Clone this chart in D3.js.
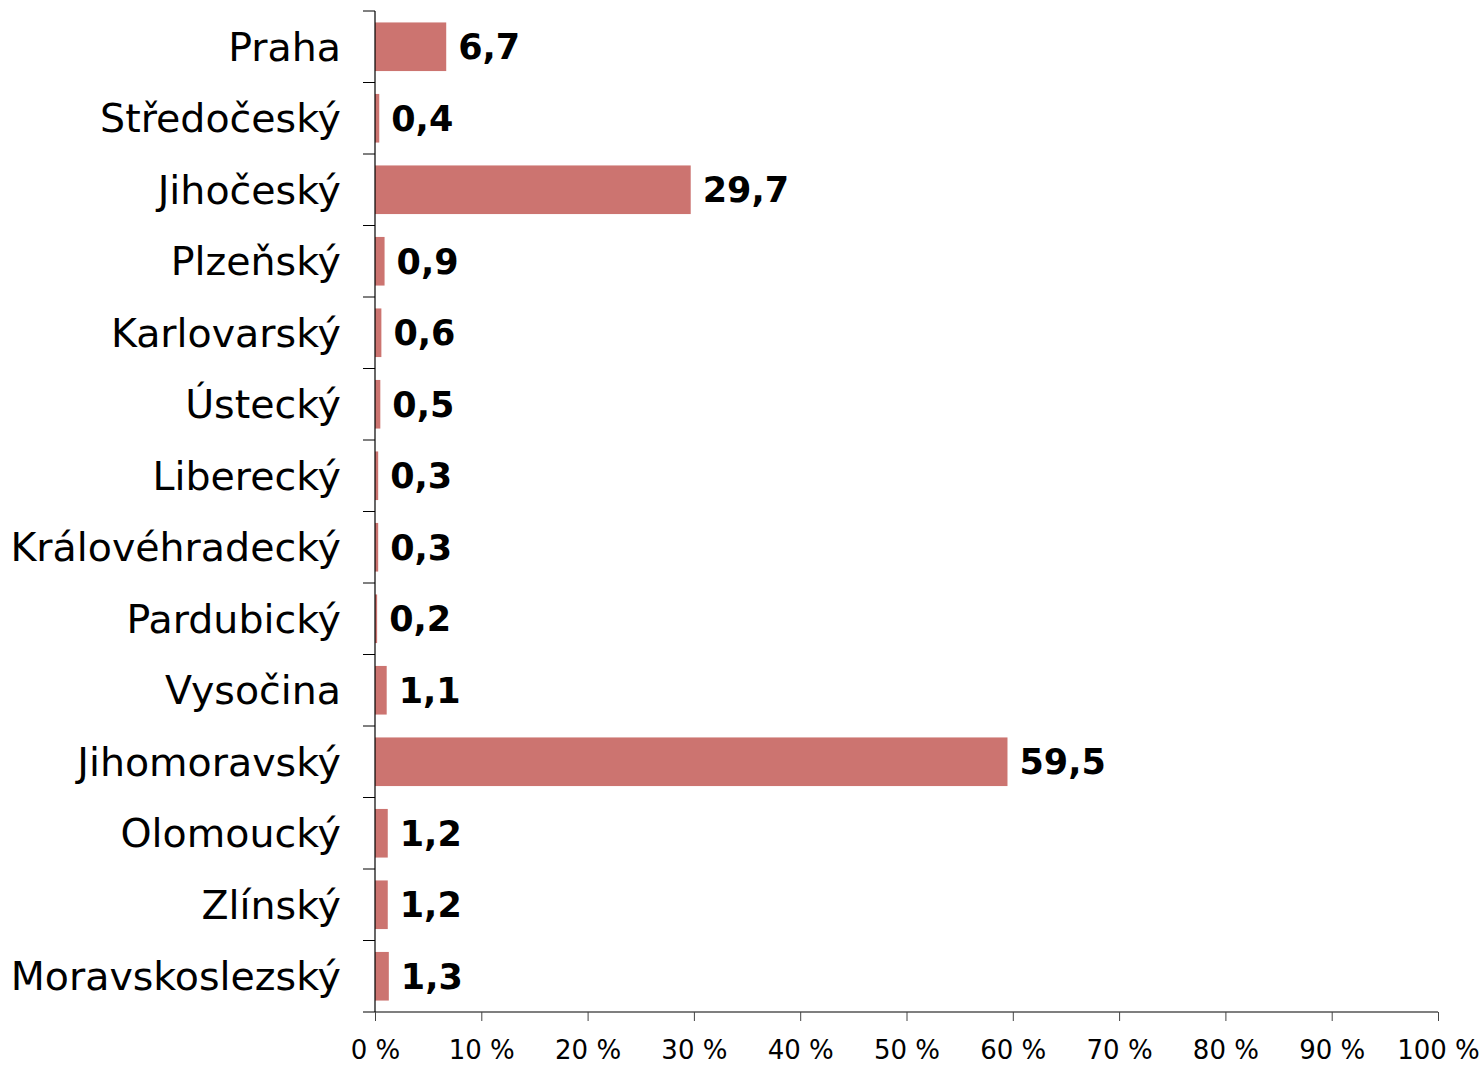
<!DOCTYPE html>
<html>
<head>
<meta charset="utf-8">
<script src="https://cdn.jsdelivr.net/npm/d3@7"></script>
<style>
  body { margin: 0; background: #fff; }
  svg text { font-family: "DejaVu Sans", Verdana, sans-serif; }
</style>
</head>
<body>
<svg id="chart" width="1483" height="1066"></svg>
<script>
// regions (top to bottom) and their share in %
var regions = ["Praha", "Středočeský", "Jihočeský", "Plzeňský", "Karlovarský", "Ústecký",
  "Liberecký", "Královéhradecký", "Pardubický", "Vysočina", "Jihomoravský",
  "Olomoucký", "Zlínský", "Moravskoslezský"];
var shares = [6.7, 0.4, 29.7, 0.9, 0.6, 0.5, 0.3, 0.3, 0.2, 1.1, 59.5, 1.2, 1.2, 1.3];
var tickValues = [0, 10, 20, 30, 40, 50, 60, 70, 80, 90, 100];

(function() {
  var left = 375, right = 1438, top = 11, bottom = 1012;
  var data = regions.map(function(r, i) { return { region: r, value: shares[i] }; });

  var svg = d3.select("#chart");

  var x = d3.scaleLinear().domain([0, 100]).range([left, right]);
  var y = d3.scaleBand().domain(regions).range([top, bottom]).paddingInner(0.32).paddingOuter(0.16);

  // bars
  svg.append("g").selectAll("rect")
    .data(data)
    .enter()
    .append("rect")
      .attr("x", x(0))
      .attr("y", function(d) { return y(d.region); })
      .attr("width", function(d) { return x(d.value) - x(0); })
      .attr("height", y.bandwidth())
      .attr("fill", "#cc7470");

  // value labels
  svg.append("g").selectAll("text")
    .data(data)
    .enter()
    .append("text")
      .attr("x", function(d) { return x(d.value) + 12; })
      .attr("y", function(d) { return y(d.region) + y.bandwidth() / 2; })
      .attr("dy", "0.36em")
      .style("font-size", "35px")
      .style("font-weight", "bold")
      .attr("fill", "#000")
      .text(function(d) { return d3.format(".1f")(d.value).replace(".", ","); });

  // y axis: line plus ticks at band boundaries
  var step = (bottom - top) / regions.length;
  var yAxis = svg.append("g");
  yAxis.append("line")
    .attr("x1", left).attr("x2", left).attr("y1", top).attr("y2", bottom)
    .attr("stroke", "#000").attr("stroke-width", 1.2);
  yAxis.selectAll("line.tick")
    .data(d3.range(regions.length))
    .enter()
    .append("line")
      .attr("class", "tick")
      .attr("x1", left - 12).attr("x2", left)
      .attr("y1", function(i) { return top + i * step; })
      .attr("y2", function(i) { return top + i * step; })
      .attr("stroke", "#000").attr("stroke-width", 1);
  yAxis.selectAll("text")
    .data(regions)
    .enter()
    .append("text")
      .attr("x", left - 34)
      .attr("y", function(d) { return y(d) + y.bandwidth() / 2; })
      .attr("dy", "0.36em")
      .attr("text-anchor", "end")
      .style("font-size", "39.5px")
      .attr("fill", "#000")
      .text(function(d) { return d; });

  // x axis
  var xAxis = svg.append("g")
    .attr("transform", "translate(0," + bottom + ")")
    .call(d3.axisBottom(x).tickValues(tickValues).tickSize(9).tickPadding(20)
      .tickFormat(function(d) { return d + " %"; }));
  xAxis.select(".domain").attr("stroke", "#000").attr("stroke-width", 1.2)
    .attr("d", "M" + (left - 12) + ",0H" + right);
  xAxis.selectAll(".tick line").attr("stroke", "#444");
  xAxis.selectAll(".tick text")
    .style("font-size", "26px")
    .style("font-family", "'DejaVu Sans', Verdana, sans-serif")
    .attr("fill", "#000");
})();
</script>
</body>
</html>
